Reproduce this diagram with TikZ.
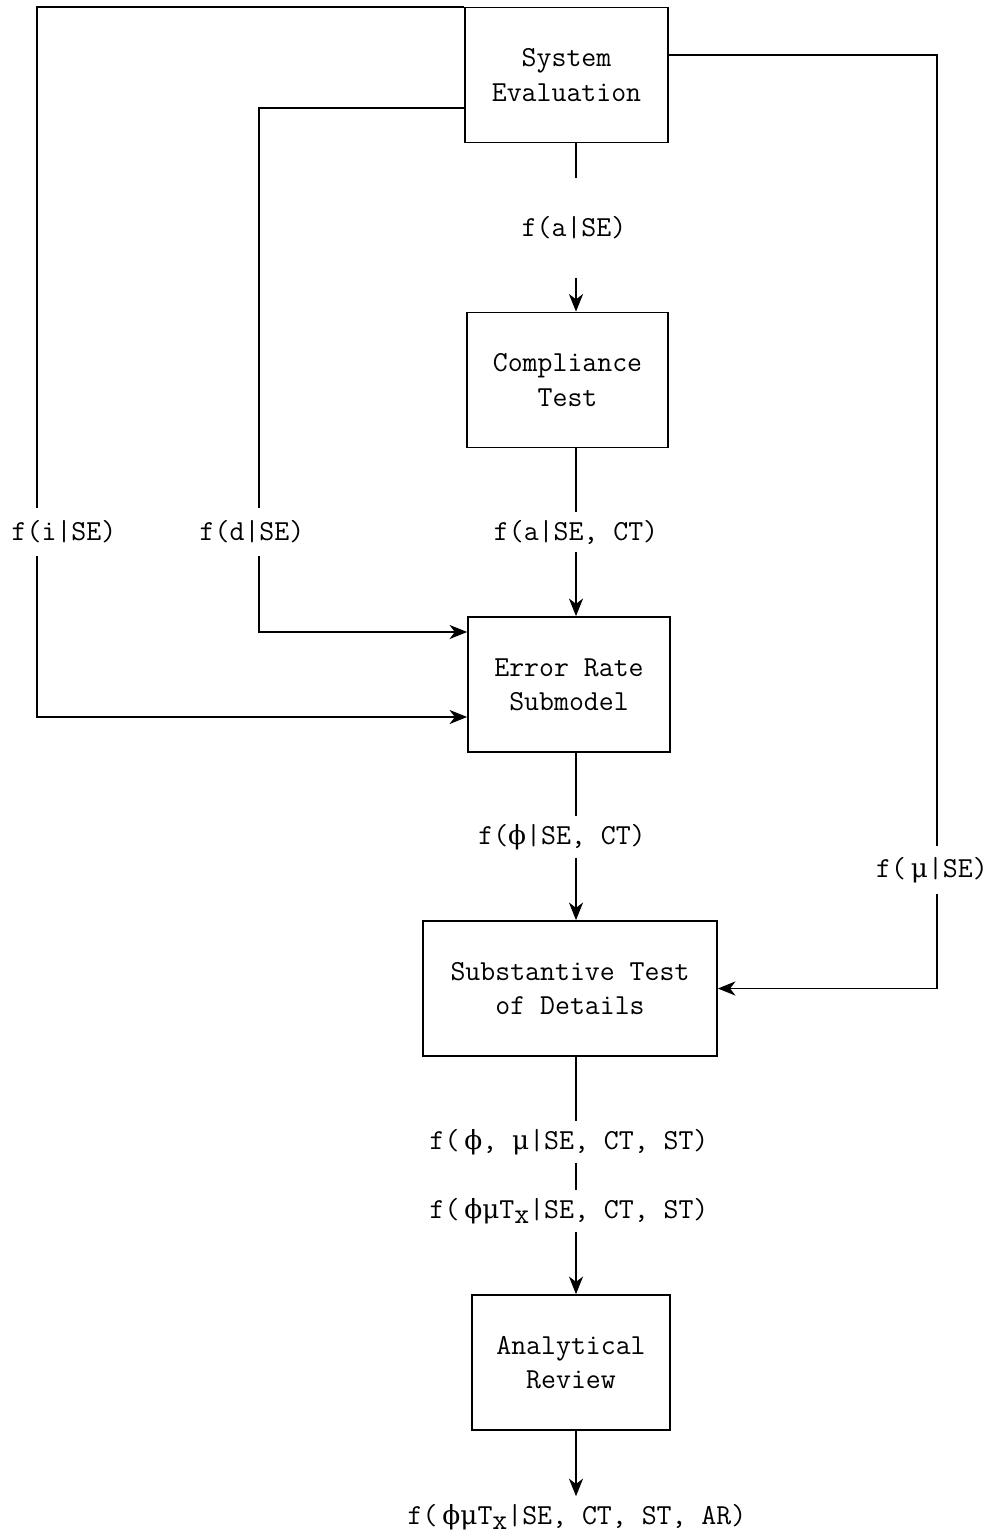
\documentclass[tikz,border=0pt]{standalone}
\usepackage{fontspec}
\newfontfamily\grk{DejaVu Serif}
\usetikzlibrary{arrows.meta,calc}
\newcommand{\grph}{{\grk\fontsize{15}{19.5}\selectfont ϕ}}
\newcommand{\grmu}{{\grk\fontsize{15}{19.5}\selectfont μ}}
\newcommand{\grTx}{T\raisebox{-0.45ex}{x}}

\begin{document}
\begin{tikzpicture}[x=0.02cm, y=-0.02cm, line width=1pt,
	every node/.style={font=\ttfamily\fontsize{16.5}{19.5}\selectfont},
	>={Stealth[length=10pt,width=8pt,inset=3pt]},
	box/.style={draw, align=center, minimum height=2.7cm, inner sep=0pt},
	lbl/.style={inner xsep=0pt, inner ysep=4pt}]
	\useasboundingbox (0,0) rectangle (993,1537);
	\coordinate (sp) at (576,0);
	\coordinate (lx) at (37,0);
	\coordinate (dx) at (259,0);
	\coordinate (mx) at (937,0);
	\node[box, minimum width=4.06cm] (se) at (566.5,75) {System\\Evaluation};
	\node[box, minimum width=4.02cm] (ct) at (567.5,380) {Compliance\\Test};
	\node[box, minimum width=4.04cm] (ers) at (569,684.5) {Error Rate\\Submodel};
	\node[box, minimum width=5.88cm] (std) at (570,988.5) {Substantive Test\\of Details};
	\node[box, minimum width=3.96cm] (ar) at (571,1362.5) {Analytical\\Review};
	\node[lbl, inner ysep=0.75cm] (la) at (574,228) {f(a|SE)};
	\node[lbl] (lb) at (576,532) {f(a|SE, CT)};
	\node[lbl, inner ysep=7pt] (li) at (64,532) {f(i|SE)};
	\node[lbl, inner ysep=7pt] (ld) at (252,532) {f(d|SE)};
	\node[lbl] (lc) at (562,837) {f(\grph|SE, CT)};
	\node[lbl, inner ysep=6pt] (lm) at (932,870) {f(\,\grmu|SE)};
	\node[lbl] (le) at (569,1142) {f(\,\grph, \grmu|SE, CT, ST)};
	\node[lbl] (lf) at (569,1211) {f(\,\grph\grmu\grTx|SE, CT, ST)};
	\node[lbl] (lg) at (577,1517) {f(\,\grph\grmu\grTx|SE, CT, ST, AR)};
	\draw (se.south -| sp) -- (la.north -| sp);
	\draw[->] (la.south -| sp) -- (ct.north -| sp);
	\draw (ct.south -| sp) -- (lb.north -| sp);
	\draw[->] (lb.south -| sp) -- (ers.north -| sp);
	\draw (ers.south -| sp) -- (lc.north -| sp);
	\draw[->] (lc.south -| sp) -- (std.north -| sp);
	\draw (std.south -| sp) -- (le.north -| sp);
	\draw (le.south -| sp) -- (lf.north -| sp);
	\draw[->] (lf.south -| sp) -- (ar.north -| sp);
	\draw[->] (ar.south -| sp) -- (lg.north -| sp);
	\draw (se.north west) -| (lx |- li.north);
	\draw[->] (lx |- li.south) |- ($(ers.west)+(0,32.5)$);
	\draw ($(se.west)+(0,33)$) -| (dx |- ld.north);
	\draw[->] (dx |- ld.south) |- ($(ers.west)+(0,-52.5)$);
	\draw ($(se.east)+(0,-20)$) -| (mx |- lm.north);
	\draw[->] (mx |- lm.south) |- (std.east);
\end{tikzpicture}
\end{document}
